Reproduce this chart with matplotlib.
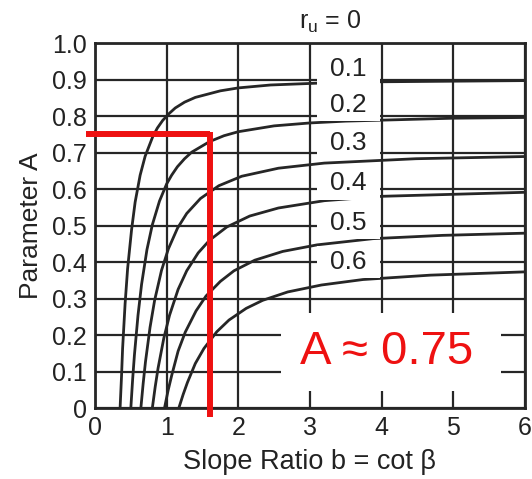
import matplotlib
matplotlib.use("Agg")
import matplotlib.pyplot as plt
from matplotlib.patches import Rectangle

plt.rcParams['font.family'] = ['Liberation Sans', 'DejaVu Sans']

# curves: slope ratio b -> parameter A
b_01 = [0.35, 0.37, 0.385, 0.42, 0.455, 0.51, 0.56, 0.63, 0.70, 0.805, 0.87, 0.945, 1.03, 1.12, 1.25, 1.4, 1.75, 2.0, 2.45, 3.5, 6.0]
a_01 = [0.0, 0.087, 0.163, 0.286, 0.382, 0.488, 0.564, 0.638, 0.690, 0.743, 0.767, 0.788, 0.806, 0.822, 0.838, 0.851, 0.869, 0.877, 0.885, 0.893, 0.897]

b_02 = [0.5, 0.525, 0.55, 0.6, 0.65, 0.725, 0.8, 0.9, 1.0, 1.07, 1.15, 1.25, 1.35, 1.6, 1.8, 2.0, 2.5, 3.0, 3.5, 5.0, 6.0]
a_02 = [0.0, 0.078, 0.145, 0.254, 0.339, 0.434, 0.502, 0.567, 0.614, 0.638, 0.661, 0.683, 0.701, 0.730, 0.746, 0.757, 0.773, 0.781, 0.786, 0.794, 0.796]

b_03 = [0.64, 0.672, 0.704, 0.768, 0.832, 0.928, 1.024, 1.152, 1.28, 1.472, 1.728, 2.048, 2.56, 3.2, 4.48, 6.0]
a_03 = [0.0, 0.067, 0.126, 0.221, 0.295, 0.377, 0.436, 0.493, 0.533, 0.574, 0.609, 0.635, 0.657, 0.671, 0.683, 0.689]

b_04 = [0.8, 0.84, 0.88, 0.96, 1.04, 1.16, 1.28, 1.44, 1.6, 1.84, 2.16, 2.56, 3.2, 4.0, 6.0]
a_04 = [0.0, 0.058, 0.109, 0.191, 0.254, 0.325, 0.376, 0.425, 0.460, 0.496, 0.526, 0.548, 0.568, 0.580, 0.591]

b_05 = [0.97, 1.02, 1.07, 1.16, 1.26, 1.41, 1.55, 1.75, 1.94, 2.23, 2.62, 3.1, 3.88, 4.85, 6.0]
a_05 = [0.0, 0.048, 0.089, 0.156, 0.208, 0.266, 0.307, 0.347, 0.376, 0.405, 0.429, 0.447, 0.464, 0.473, 0.479]

b_06 = [1.17, 1.23, 1.29, 1.40, 1.52, 1.70, 1.87, 2.11, 2.34, 2.69, 3.16, 3.74, 4.68, 6.0]
a_06 = [0.0, 0.037, 0.070, 0.122, 0.163, 0.209, 0.241, 0.273, 0.295, 0.318, 0.337, 0.352, 0.364, 0.373]

curves = [(b_01, a_01), (b_02, a_02), (b_03, a_03), (b_04, a_04), (b_05, a_05), (b_06, a_06)]

ru_labels = ['0.1', '0.2', '0.3', '0.4', '0.5', '0.6']
ru_label_a = [0.93, 0.83, 0.726, 0.616, 0.507, 0.40]

x_ticks = [0, 1, 2, 3, 4, 5, 6]
y_ticks = [0, 0.1, 0.2, 0.3, 0.4, 0.5, 0.6, 0.7, 0.8, 0.9, 1.0]
y_ticklabels = ['0', '0.1', '0.2', '0.3', '0.4', '0.5', '0.6', '0.7', '0.8', '0.9', '1.0']

b_read = 1.6
a_read = 0.75

ink = '#262626'
red = '#ee1111'

fig = plt.figure(figsize=(5.32, 4.79), dpi=100)
ax = fig.add_axes([0.1786, 0.1482, 0.808, 0.762])

ax.set_xlim(0, 6)
ax.set_ylim(0, 1.0)
ax.set_xticks(x_ticks)
ax.set_yticks(y_ticks)
ax.set_yticklabels(y_ticklabels)
ax.tick_params(length=0, labelsize=18, colors='#222222', pad=6)
ax.grid(True, color=ink, linewidth=1.6, zorder=1)
ax.set_axisbelow(True)
for s in ax.spines.values():
    s.set_linewidth(2.0)
    s.set_color(ink)
    s.set_zorder(6)

for b, a in curves:
    ax.plot(b, a, color=ink, linewidth=2.0, zorder=3, solid_capstyle='round')

# white boxes behind the curve labels
for lab, ya in zip(ru_labels, ru_label_a):
    ax.add_patch(Rectangle((3.1, ya - 0.045), 0.88, 0.09, facecolor='white',
                           edgecolor='none', zorder=4))
    ax.text(3.54, ya, lab, fontsize=19, ha='center', va='center', color='#222222', zorder=5)

ax.text(3.29, 1.057, r'r$_\mathregular{u}$ = 0', fontsize=18, ha='center', va='center',
        color='#222222', clip_on=False)

# answer box
ax.add_patch(Rectangle((2.6, 0.047), 3.06, 0.213, facecolor='white', edgecolor='none', zorder=4))
ax.text(4.07, 0.153, 'A ≈ 0.75', fontsize=34, ha='center', va='center', color=red, zorder=8)

ax.plot([-0.13, b_read], [a_read, a_read], color=red, linewidth=4.3, zorder=7,
        clip_on=False, solid_capstyle='butt')
ax.plot([b_read, b_read], [a_read + 0.006, -0.025], color=red, linewidth=4.3, zorder=7,
        clip_on=False, solid_capstyle='butt')

ax.set_xlabel('Slope Ratio b = cot β', fontsize=19.5, color='#222222', labelpad=6)
ax.set_ylabel('Parameter A', fontsize=19, color='#222222', labelpad=6)

fig.savefig('out.png', dpi=100)
